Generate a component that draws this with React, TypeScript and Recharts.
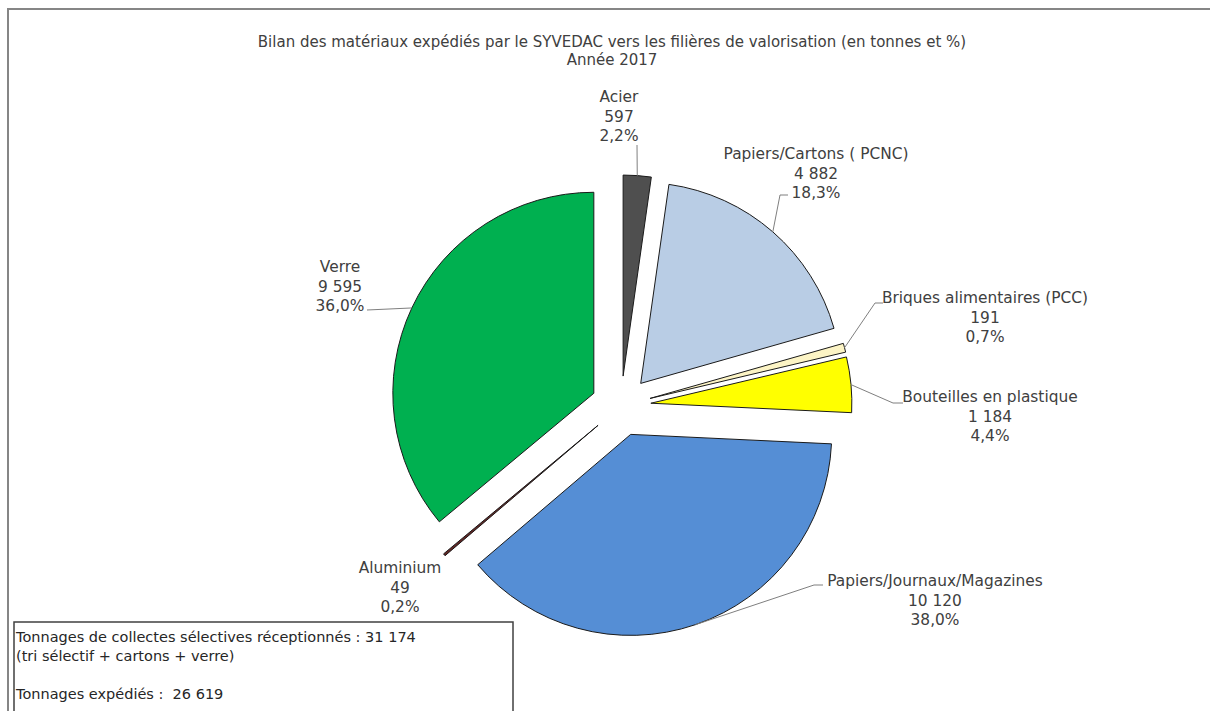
import React from 'react';
import { PieChart, Pie, Cell } from 'recharts';

// ---------- data ----------
const categories = [
  'Acier',
  'Papiers/Cartons ( PCNC)',
  'Briques alimentaires (PCC)',
  'Bouteilles en plastique',
  'Papiers/Journaux/Magazines',
  'Aluminium',
  'Verre',
];
const tonnages = [597, 4882, 191, 1184, 10120, 49, 9595];
const tonnageLabels = ['597', '4 882', '191', '1 184', '10 120', '49', '9 595'];
const percentLabels = ['2,2%', '18,3%', '0,7%', '4,4%', '38,0%', '0,2%', '36,0%'];

const titleLines = [
  'Bilan des matériaux expédiés par le SYVEDAC vers les filières de valorisation (en tonnes et %)',
  'Année 2017',
];
const boxLines = [
  'Tonnages de collectes sélectives réceptionnés : 31 174',
  '(tri sélectif + cartons + verre)',
  '',
  'Tonnages expédiés :\u00a0 26 619',
];

// ---------- styles ----------
const colors = ['#4f4f4f', '#b9cde5', '#fcf4c5', '#ffff00', '#558ed5', '#632523', '#00b050'];
const FONT = '"DejaVu Sans", sans-serif';
const TEXT_COLOR = '#404040';
const W = 1210;
const H = 711;
const CX = 616;
const CY = 401;
const R = 201;
const EXPLODE = 30;
const LINE_H = 19.5;
const LABEL_SIZE = 15.4;

// label layout: text centre / first line centre y, leader bend points
const labelLayout: { tx: number; ty: number; bend: number[][] }[] = [
  { tx: 619, ty: 97, bend: [[637, 145]] },
  { tx: 816, ty: 154, bend: [[780, 195], [788, 195]] },
  { tx: 985, ty: 298, bend: [[875, 303], [883, 303]] },
  { tx: 990, ty: 397, bend: [[893, 403], [903, 403]] },
  { tx: 935, ty: 581, bend: [[814, 585], [823, 585]] },
  { tx: 400, ty: 568, bend: [] },
  { tx: 340, ty: 267, bend: [[367, 310]] },
];

const data = categories.map((name, i) => ({ name, value: tonnages[i] }));
const total = tonnages.reduce((a, b) => a + b, 0);

// mid angle of each slice (Recharts degrees, start at 90, clockwise)
const midAngles = tonnages.map((v, i) => {
  const before = tonnages.slice(0, i).reduce((a, b) => a + b, 0);
  return 90 - ((before + v / 2) / total) * 360;
});

const RAD = Math.PI / 180;

function makeLabel(slice: number) {
  return (props: any) => {
    if (props.index !== slice) return null;
    const { cx, cy, outerRadius, midAngle } = props;
    const lay = labelLayout[slice];
    const ax = cx + outerRadius * Math.cos(midAngle * RAD);
    const ay = cy - outerRadius * Math.sin(midAngle * RAD);
    const pts = [[ax, ay], ...lay.bend];
    const lines = [categories[slice], tonnageLabels[slice], percentLabels[slice]];
    return (
      <g>
        {lay.bend.length > 0 && (
          <polyline
            points={pts.map((p) => p.join(',')).join(' ')}
            fill="none"
            stroke="#7f7f7f"
            strokeWidth={1}
          />
        )}
        {lines.map((t, k) => (
          <text
            key={k}
            x={lay.tx}
            y={lay.ty + k * LINE_H}
            textAnchor="middle"
            dominantBaseline="central"
            fontFamily={FONT}
            fontSize={LABEL_SIZE}
            fill={TEXT_COLOR}
          >
            {t}
          </text>
        ))}
      </g>
    );
  };
}

export default function App() {
  return (
    <div style={{ position: 'absolute', left: 0, top: 0, width: W, height: H, background: '#fff', overflow: 'hidden' }}>
      <svg width={W} height={H} style={{ position: 'absolute', left: 0, top: 0 }}>
        <rect x={8} y={9} width={W + 20} height={H + 20} fill="#fff" stroke="#868686" strokeWidth={2} />
        {titleLines.map((t, k) => (
          <text
            key={k}
            x={612}
            y={42 + k * 18}
            textAnchor="middle"
            dominantBaseline="central"
            fontFamily={FONT}
            fontSize={15}
            fill={TEXT_COLOR}
          >
            {t}
          </text>
        ))}
        <rect x={14} y={622} width={499} height={120} fill="#fff" stroke="#404040" strokeWidth={1.5} />
        {boxLines.map((t, k) => (
          <text
            key={k}
            x={16}
            y={637 + k * 19}
            dominantBaseline="central"
            fontFamily={FONT}
            fontSize={14.5}
            fill="#262626"
          >
            {t}
          </text>
        ))}
      </svg>
      <div style={{ position: 'absolute', left: 0, top: 0 }}>
        <PieChart width={W} height={H}>
          {categories.map((_, i) => (
            <Pie
              key={i}
              data={data}
              dataKey="value"
              nameKey="name"
              cx={CX + EXPLODE * Math.cos(midAngles[i] * RAD)}
              cy={CY - EXPLODE * Math.sin(midAngles[i] * RAD)}
              outerRadius={R}
              innerRadius={0}
              startAngle={90}
              endAngle={-270}
              isAnimationActive={false}
              label={makeLabel(i)}
              labelLine={false}
            >
              {data.map((_, j) => (
                <Cell
                  key={j}
                  fill={j === i ? colors[j] : 'none'}
                  stroke={j === i ? '#1a1a1a' : 'none'}
                  strokeWidth={1}
                />
              ))}
            </Pie>
          ))}
        </PieChart>
      </div>
    </div>
  );
}
